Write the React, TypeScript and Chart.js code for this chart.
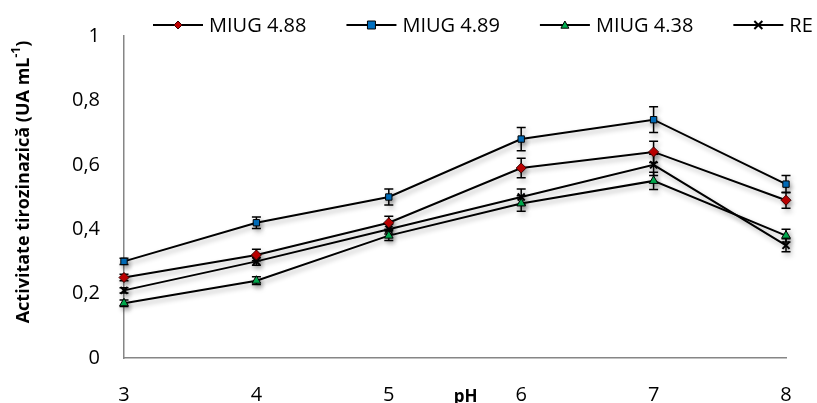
import React, { useEffect, useRef } from "react";
import { Chart, registerables } from "chart.js";

Chart.register(...registerables);

const phLabels = ["3", "4", "5", "6", "7", "8"];
const seriesNames = ["MIUG 4.88", "MIUG 4.89", "MIUG 4.38", "RE"];
const miug488 = [0.25, 0.32, 0.42, 0.59, 0.64, 0.49];
const miug488Err = [0.01, 0.018, 0.02, 0.03, 0.033, 0.025];
const miug489 = [0.3, 0.42, 0.5, 0.68, 0.74, 0.54];
const miug489Err = [0.01, 0.018, 0.025, 0.036, 0.04, 0.027];
const miug438 = [0.17, 0.24, 0.38, 0.48, 0.55, 0.38];
const miug438Err = [0.01, 0.012, 0.015, 0.024, 0.027, 0.02];
const reValues = [0.21, 0.3, 0.4, 0.5, 0.6, 0.35];
const reErr = [0.008, 0.012, 0.015, 0.025, 0.033, 0.02];
const yTicks = [0, 0.2, 0.4, 0.6, 0.8, 1];

const FONT = "'Open Sans', 'Liberation Sans', sans-serif";

const errors = [miug488Err, miug489Err, miug438Err, reErr];

function drawMarker(ctx: CanvasRenderingContext2D, style: string, x: number, y: number, r: number, fill: string, stroke: string) {
  ctx.save();
  ctx.beginPath();
  ctx.fillStyle = fill;
  ctx.strokeStyle = stroke;
  ctx.lineWidth = 1;
  if (style === "rectRot") {
    ctx.moveTo(x, y - r);
    ctx.lineTo(x + r, y);
    ctx.lineTo(x, y + r);
    ctx.lineTo(x - r, y);
    ctx.closePath();
    ctx.fill();
    ctx.stroke();
  } else if (style === "rect") {
    ctx.rect(x - r, y - r, 2 * r, 2 * r);
    ctx.fill();
    ctx.stroke();
  } else if (style === "triangle") {
    ctx.moveTo(x, y - r);
    ctx.lineTo(x + r, y + r * 0.8);
    ctx.lineTo(x - r, y + r * 0.8);
    ctx.closePath();
    ctx.fill();
    ctx.stroke();
  } else {
    ctx.lineWidth = 2;
    ctx.moveTo(x - r, y - r);
    ctx.lineTo(x + r, y + r);
    ctx.moveTo(x + r, y - r);
    ctx.lineTo(x - r, y + r);
    ctx.stroke();
  }
  ctx.restore();
}

const effectsPlugin = {
  id: "effects",
  beforeDatasetsDraw(chart: any) {
    const ctx = chart.ctx;
    ctx.save();
    ctx.shadowColor = "rgba(0,0,0,0.3)";
    ctx.shadowBlur = 5;
    ctx.shadowOffsetX = 2;
    ctx.shadowOffsetY = 3;
    const yScale = chart.scales.y;
    chart.data.datasets.forEach((ds: any, i: number) => {
      const meta = chart.getDatasetMeta(i);
      const errs = errors[i];
      meta.data.forEach((pt: any, j: number) => {
        const v = ds.data[j];
        const e = errs[j];
        const x = pt.x;
        const yTop = yScale.getPixelForValue(v + e);
        const yBot = yScale.getPixelForValue(v - e);
        ctx.beginPath();
        ctx.strokeStyle = "#000";
        ctx.lineWidth = 1.5;
        ctx.moveTo(x, yTop);
        ctx.lineTo(x, yBot);
        ctx.moveTo(x - 4.5, yTop);
        ctx.lineTo(x + 4.5, yTop);
        ctx.moveTo(x - 4.5, yBot);
        ctx.lineTo(x + 4.5, yBot);
        ctx.stroke();
      });
    });
  },
  afterDatasetsDraw(chart: any) {
    chart.ctx.restore();
  },
  afterDraw(chart: any) {
    const ctx = chart.ctx;
    // legend
    ctx.save();
    ctx.font = `20px ${FONT}`;
    ctx.textBaseline = "middle";
    ctx.fillStyle = "#000";
    let x = 153;
    const ly = 25;
    chart.data.datasets.forEach((ds: any) => {
      ctx.beginPath();
      ctx.strokeStyle = "#000";
      ctx.lineWidth = 2;
      ctx.moveTo(x, ly);
      ctx.lineTo(x + 50, ly);
      ctx.stroke();
      drawMarker(ctx, ds.pointStyle, x + 25, ly, 4, ds.pointBackgroundColor, ds.pointBorderColor);
      ctx.fillStyle = "#000";
      ctx.textAlign = "left";
      ctx.fillText(ds.label, x + 56, ly + 1);
      x += 56 + ctx.measureText(ds.label).width + 40;
    });
    ctx.restore();

    // y title with superscript
    ctx.save();
    ctx.translate(24, 182);
    ctx.rotate(-Math.PI / 2);
    const mainFont = `bold 18px ${FONT}`;
    const supFont = `bold 12px ${FONT}`;
    const a = "Activitate tirozinazică (UA mL";
    const s = "-1";
    const b = ")";
    ctx.font = mainFont;
    const wa = ctx.measureText(a).width;
    const wb = ctx.measureText(b).width;
    ctx.font = supFont;
    const ws = ctx.measureText(s).width;
    const total = wa + ws + wb;
    let tx = -total / 2;
    ctx.fillStyle = "#000";
    ctx.textBaseline = "middle";
    ctx.textAlign = "left";
    ctx.font = mainFont;
    ctx.fillText(a, tx, 0);
    tx += wa;
    ctx.font = supFont;
    ctx.fillText(s, tx, -7);
    tx += ws;
    ctx.font = mainFont;
    ctx.fillText(b, tx, 0);
    ctx.restore();

    // x title "pH"
    ctx.save();
    ctx.font = `bold 17px ${FONT}`;
    ctx.fillStyle = "#000";
    ctx.textAlign = "center";
    ctx.textBaseline = "middle";
    const xs = chart.scales.x;
    const p5 = xs.getPixelForValue(2);
    const p6 = xs.getPixelForValue(3);
    ctx.fillText("pH", p5 + 0.58 * (p6 - p5), 397);
    ctx.restore();
  },
};

export default function App() {
  const ref = useRef<HTMLCanvasElement>(null);
  useEffect(() => {
    document.body.style.margin = "0";
    if (!ref.current) return;
    const mk = (label: string, data: number[], style: string, fill: string, border: string) => ({
      label,
      data,
      borderColor: "#000",
      borderWidth: 2,
      pointStyle: style,
      pointRadius: style === "rect" ? 4.5 : 5,
      pointBackgroundColor: fill,
      pointBorderColor: border,
      pointBorderWidth: style === "crossRot" ? 2 : 1,
      tension: 0,
      clip: false as const,
      fill: false,
    });
    const chart = new Chart(ref.current, {
      type: "line",
      data: {
        labels: phLabels,
        datasets: [
          mk(seriesNames[0], miug488, "rectRot", "#C00000", "#3a0000"),
          mk(seriesNames[1], miug489, "rect", "#0070C0", "#000"),
          mk(seriesNames[2], miug438, "triangle", "#00B050", "#000"),
          mk(seriesNames[3], reValues, "crossRot", "#000", "#000"),
        ],
      },
      options: {
        responsive: false,
        animation: false,
        layout: { padding: { top: 22, right: 31, left: 0, bottom: 0 } },
        plugins: { legend: { display: false }, tooltip: { enabled: false } },
        scales: {
          x: {
            type: "category",
            offset: false,
            grid: { display: false, drawTicks: false },
            border: { display: true, color: "#868686", width: 1.5 },
            ticks: { color: "#000", font: { family: FONT, size: 20 }, padding: 25, maxRotation: 0 },
            afterFit: (s: any) => { s.height = 45; },
          },
          y: {
            min: 0,
            max: 1,
            afterBuildTicks: (s: any) => { s.ticks = yTicks.map((v) => ({ value: v })); },
            grid: { display: false, drawTicks: false },
            border: { display: true, color: "#868686", width: 1.5 },
            ticks: {
              color: "#000",
              font: { family: FONT, size: 20 },
              padding: 24,
              callback: (v: any) => String(v).replace(".", ","),
            },
            afterFit: (s: any) => { s.width = 124; },
          },
        },
      },
      plugins: [effectsPlugin],
    } as any);
    return () => chart.destroy();
  }, []);
  return (
    <div style={{ position: "fixed", left: 0, top: 0, width: 817, height: 403 }}>
      <canvas ref={ref} width={817} height={403} style={{ width: 817, height: 403 }} />
    </div>
  );
}
